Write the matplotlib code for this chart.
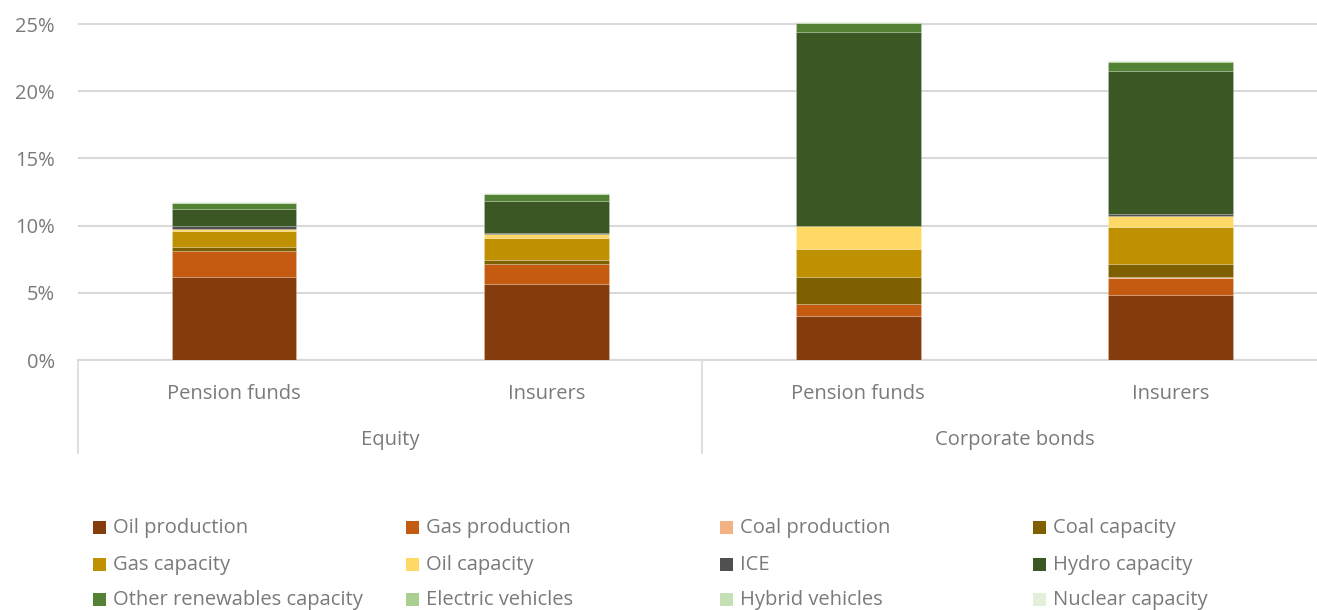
import numpy as np
import matplotlib
matplotlib.use("Agg")
import matplotlib.pyplot as plt
from matplotlib.patches import Rectangle

# bars, left to right: Equity (pension, insurers), Corporate bonds (pension, insurers)
groups = ["Pension funds", "Insurers", "Pension funds", "Insurers"]
asset_classes = ["Equity", "Corporate bonds"]

series = ["Oil production", "Gas production", "Coal production", "Coal capacity",
          "Gas capacity", "Oil capacity", "ICE", "Hydro capacity",
          "Other renewables capacity", "Electric vehicles", "Hybrid vehicles",
          "Nuclear capacity"]

oil_prod = [6.15, 5.63, 3.30, 4.81]
gas_prod = [1.96, 1.49, 0.84, 1.27]
coal_prod = [0.02, 0.02, 0.02, 0.10]
coal_cap = [0.27, 0.27, 2.01, 0.94]
gas_cap = [1.17, 1.64, 2.06, 2.75]
oil_cap = [0.20, 0.32, 1.71, 0.87]
ice = [0.20, 0.05, 0.02, 0.15]
hydro_cap = [1.26, 2.40, 14.46, 10.64]
other_ren = [0.45, 0.52, 0.67, 0.67]
ev = [0.03, 0.03, 0.02, 0.03]
hybrid = [0.02, 0.02, 0.01, 0.02]
nuclear = [0.02, 0.02, 0.01, 0.02]

values = [oil_prod, gas_prod, coal_prod, coal_cap, gas_cap, oil_cap, ice,
          hydro_cap, other_ren, ev, hybrid, nuclear]

colors = ["#843C0C", "#C55A11", "#F4B183", "#7F6000", "#BF9000", "#FFD966",
          "#505050", "#3A5724", "#548235", "#A9D08E", "#C5E0B4", "#E2EFDA"]

yticks = [0, 5, 10, 15, 20, 25]

txt = "#7A7A7A"
grid = "#D9D9D9"
fs = 14.5
plt.rcParams['font.family'] = ['Open Sans', 'DejaVu Sans']

W, H = 1317, 610
fig = plt.figure(figsize=(W/100, H/100), dpi=100)
ax = fig.add_axes([78/W, (H-360)/H, 1 - 78/W, 340/H])

x = np.arange(len(groups))
bottom = np.zeros(len(groups))
for name, v, c in zip(series, values, colors):
    ax.bar(x, v, 0.4, bottom=bottom, color=c, edgecolor=(1, 1, 1, 0.25),
           linewidth=0.5, label=name, zorder=3)
    bottom += np.array(v)

ax.set_xlim(-0.5, 3.5 - 9.5/312)
ax.set_ylim(0, 25 + 4/13.44)
ax.set_yticks(yticks)
ax.set_yticklabels([f"{t}%" for t in yticks], color=txt, fontsize=fs)
ax.tick_params(axis='y', length=0, pad=16.5)
ax.yaxis.grid(True, color=grid, linewidth=1.5, zorder=0)
for s in ["top", "right", "left"]:
    ax.spines[s].set_visible(False)
ax.spines["bottom"].set_color(grid)
ax.spines["bottom"].set_linewidth(1.5)
ax.set_xticks([])

tr = ax.get_xaxis_transform()
for i, g in enumerate(groups):
    ax.text(i, -34/340, g, transform=tr, ha='center', va='center',
            color=txt, fontsize=fs, clip_on=False)
for j, a in enumerate(asset_classes):
    ax.text(2*j + 0.5, -80/340, a, transform=tr, ha='center', va='center',
            color=txt, fontsize=fs, clip_on=False)
for xs in [-0.5, 1.5]:
    ax.plot([xs, xs], [0, -93/340], transform=tr, color=grid, linewidth=1.2,
            clip_on=False)

# legend, 4 columns
col_x = [93, 406, 720, 1033]
row_y = [527, 564, 599]
for k, (name, c) in enumerate(zip(series, colors)):
    cx = col_x[k % 4]
    cy = row_y[k // 4]
    fig.add_artist(Rectangle(((cx)/W, (H - cy - 6.5)/H), 13/W, 13/H,
                             transform=fig.transFigure, facecolor=c,
                             edgecolor='none'))
    fig.text((cx + 20)/W, (H - cy - 1)/H, name, ha='left', va='center',
             color=txt, fontsize=fs)

fig.savefig("out.png", dpi=100)
